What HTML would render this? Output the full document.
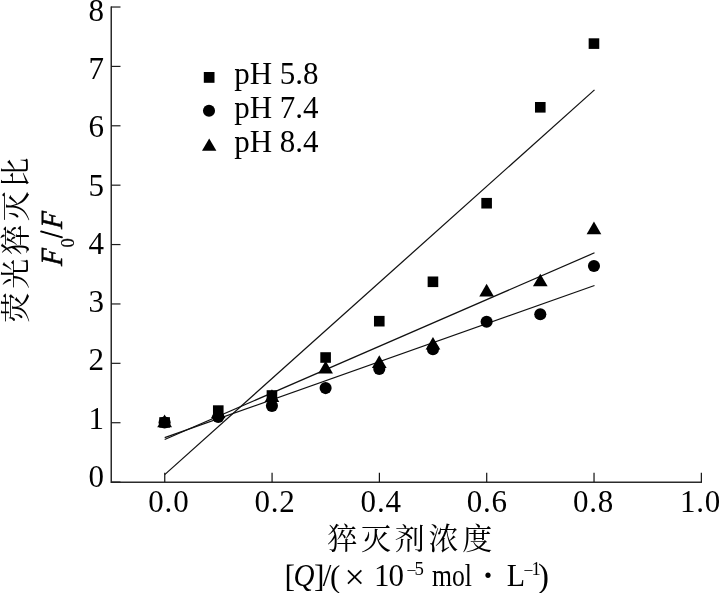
<!DOCTYPE html>
<html><head><meta charset="utf-8"><title>chart</title>
<style>
html,body{margin:0;padding:0;background:#fff;}
svg{display:block;}
text{font-family:"Liberation Serif","Noto Serif CJK SC",serif;fill:#000;}
.cj{font-family:"Noto Serif CJK SC","Liberation Serif",serif;font-weight:400;}
</style></head><body>
<svg width="719" height="593" viewBox="0 0 719 593">
<rect width="719" height="593" fill="#fff"/>

<g stroke="#2b2b2b" stroke-width="1.5" fill="none">
<path d="M111.25 6.4 V482.25 H702"/>
</g>
<g stroke="#1c1c1c" stroke-width="1.2" fill="none">
<path d="M111 482.10 H120.5"/>
<path d="M111 422.72 H120.5"/>
<path d="M111 363.33 H120.5"/>
<path d="M111 303.95 H120.5"/>
<path d="M111 244.56 H120.5"/>
<path d="M111 185.18 H120.5"/>
<path d="M111 125.79 H120.5"/>
<path d="M111 66.41 H120.5"/>
<path d="M111 7.02 H120.5"/>
</g>
<g stroke="#111" stroke-width="1.2" fill="none">
<path d="M164.75 482 V472.8"/>
<path d="M272.07 482 V472.8"/>
<path d="M379.39 482 V472.8"/>
<path d="M486.71 482 V472.8"/>
<path d="M594.03 482 V472.8"/>
<path d="M701.35 482 V472.8"/>
</g>
<g stroke="#111" stroke-width="1.25" fill="none">
<path d="M164.70 474.60 L594.50 89.90"/>
<path d="M164.70 439.50 L594.50 252.80"/>
<path d="M164.70 437.70 L594.50 285.50"/>
</g>
<g fill="#000">
<rect x="159.30" y="417.15" width="10.6" height="10.6"/>
<rect x="212.97" y="405.30" width="10.6" height="10.6"/>
<rect x="266.64" y="390.19" width="10.6" height="10.6"/>
<rect x="320.31" y="352.21" width="10.6" height="10.6"/>
<rect x="373.98" y="315.89" width="10.6" height="10.6"/>
<rect x="427.65" y="276.49" width="10.6" height="10.6"/>
<rect x="481.32" y="197.92" width="10.6" height="10.6"/>
<rect x="534.99" y="102.00" width="10.6" height="10.6"/>
<rect x="588.66" y="38.31" width="10.6" height="10.6"/>
<circle cx="164.60" cy="422.45" r="6.05"/>
<circle cx="218.27" cy="417.00" r="6.05"/>
<circle cx="271.94" cy="405.86" r="6.05"/>
<circle cx="325.61" cy="388.08" r="6.05"/>
<circle cx="379.28" cy="369.01" r="6.05"/>
<circle cx="432.95" cy="349.28" r="6.05"/>
<circle cx="486.62" cy="321.72" r="6.05"/>
<circle cx="540.29" cy="314.20" r="6.05"/>
<circle cx="593.96" cy="266.03" r="6.05"/>
<path d="M164.60 414.55 L171.95 427.15 H157.25 Z"/>
<path d="M218.27 405.66 L225.62 418.26 H210.92 Z"/>
<path d="M271.94 389.31 L279.29 401.91 H264.59 Z"/>
<path d="M325.61 360.81 L332.96 373.41 H318.26 Z"/>
<path d="M379.28 355.30 L386.63 367.90 H371.93 Z"/>
<path d="M432.95 336.99 L440.30 349.59 H425.60 Z"/>
<path d="M486.62 283.79 L493.97 296.39 H479.27 Z"/>
<path d="M540.29 273.71 L547.64 286.31 H532.94 Z"/>
<path d="M593.96 221.57 L601.31 234.17 H586.61 Z"/>
<rect x="203.8" y="72" width="10.7" height="10.8"/>
<circle cx="209" cy="110.8" r="6.05"/>
<path d="M209.2 138.6 L216.4 150.7 H202 Z"/>
</g>
<g font-size="31">
<text x="104" y="487.00" text-anchor="end">0</text>
<text x="104" y="428.71" text-anchor="end">1</text>
<text x="104" y="370.42" text-anchor="end">2</text>
<text x="104" y="312.13" text-anchor="end">3</text>
<text x="104" y="253.84" text-anchor="end">4</text>
<text x="104" y="195.55" text-anchor="end">5</text>
<text x="104" y="137.26" text-anchor="end">6</text>
<text x="104" y="78.97" text-anchor="end">7</text>
<text x="104" y="20.68" text-anchor="end">8</text>
<text x="168.90" y="511.8" text-anchor="middle" letter-spacing="0.8">0.0</text>
<text x="275.05" y="511.8" text-anchor="middle" letter-spacing="0.8">0.2</text>
<text x="381.20" y="511.8" text-anchor="middle" letter-spacing="0.8">0.4</text>
<text x="487.35" y="511.8" text-anchor="middle" letter-spacing="0.8">0.6</text>
<text x="593.50" y="511.8" text-anchor="middle" letter-spacing="0.8">0.8</text>
<text x="700.55" y="511.8" text-anchor="middle" letter-spacing="0.8">1.0</text>
<text x="234.2" y="83.9">pH 5.8</text>
<text x="234.2" y="118.1">pH 7.4</text>
<text x="234.2" y="152.3">pH 8.4</text>
</g>
<text class="cj" x="411.6" y="548.7" font-size="30" letter-spacing="3.7" text-anchor="middle">猝灭剂浓度</text>
<text font-size="31"><tspan x="284.4" y="587.4" font-size="31.5">[</tspan><tspan x="293.4" y="585.9" font-style="italic" textLength="21" lengthAdjust="spacingAndGlyphs">Q</tspan><tspan x="314" y="587.4" font-size="31.5">]</tspan><tspan x="322.8" y="586">/</tspan><tspan x="330" y="587">(</tspan><tspan x="344.6" y="588.6" font-size="36">×</tspan><tspan> </tspan><tspan x="374.1" y="585.9" letter-spacing="-1.1">10</tspan><tspan x="406.6" y="576.2" font-size="17.5">−</tspan><tspan x="414.4" y="575.4" font-size="18.8">5</tspan><tspan> </tspan><tspan x="432" y="585.9" textLength="40" lengthAdjust="spacingAndGlyphs">mol</tspan><tspan> </tspan><tspan x="482.5" y="586.1" font-size="33" font-weight="bold">·</tspan><tspan> </tspan><tspan x="506.8" y="585.9" textLength="18.3" lengthAdjust="spacingAndGlyphs">L</tspan><tspan x="523.4" y="576.2" font-size="17.5">−</tspan><tspan x="531.4" y="575.4" font-size="18.5">1</tspan><tspan x="538.0" y="587.2" font-size="33">)</tspan></text>
<text class="cj" transform="translate(26,238.2) rotate(-90)" font-size="30" letter-spacing="3.7" text-anchor="middle">荧光猝灭比</text>
<g font-size="30.8" font-style="italic" stroke="#000" stroke-width="0.55" stroke-linejoin="round">
<text transform="translate(62.4,266.0) rotate(-90) skewX(-5) scale(0.87,1)">F</text>
<text transform="translate(73.5,247.6) rotate(-90)" font-size="18.5" font-style="normal" stroke-width="0.2">0</text>
<text transform="translate(62.2,236.9) rotate(-90) scale(0.55,1)" stroke-width="1.6">/</text>
<text transform="translate(62.4,228.9) rotate(-90) skewX(-5) scale(0.87,1)">F</text>
</g>
</svg></body></html>
